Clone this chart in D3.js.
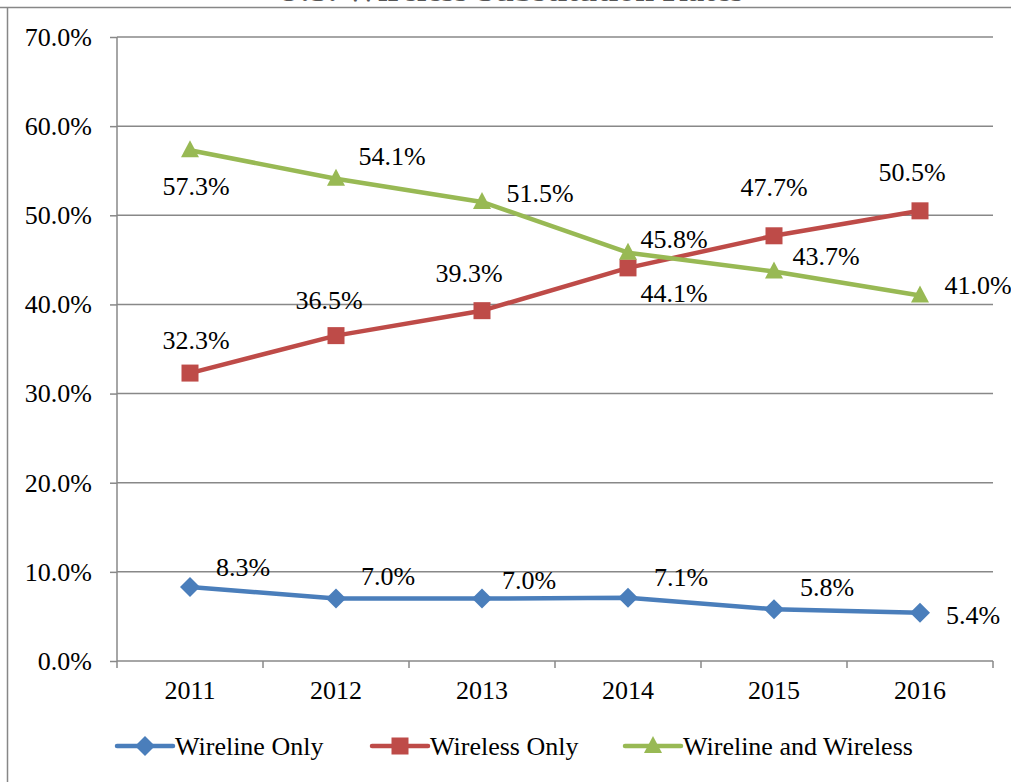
<!DOCTYPE html>
<html>
<head>
<meta charset="utf-8">
<script src="https://cdn.jsdelivr.net/npm/d3@7"></script>
<style>
  body { margin: 0; background: #fff; }
  svg text { font-family: "Liberation Serif", "Times New Roman", serif; fill: #000; }
</style>
</head>
<body>
<svg width="1011" height="782"></svg>
<script>
// Data
const years = ["2011", "2012", "2013", "2014", "2015", "2016"];
const wirelineOnly = [8.3, 7.0, 7.0, 7.1, 5.8, 5.4];
const wirelessOnly = [32.3, 36.5, 39.3, 44.1, 47.7, 50.5];
const wirelineAndWireless = [57.3, 54.1, 51.5, 45.8, 43.7, 41.0];
const yTicks = [0, 10, 20, 30, 40, 50, 60, 70];

// label placement relative to each point (dx, dy)
const blueLabelOffsets = [[53, -20], [52, -22], [47, -18], [53, -21], [53, -22], [53, 2]];
const redLabelOffsets = [[6, -33], [-7, -35], [-13, -38], [46, 25], [0, -49], [-8, -39]];
const greenLabelOffsets = [[6, 36], [56, -23], [58, -9], [46, -14], [52, -15], [58, -10]];

const svg = d3.select("svg");
const fontSize = "26px";

const x = d3.scaleBand()
    .domain(years)
    .range([117, 993]);

const y = d3.scaleLinear()
    .domain([0, 70])
    .range([661, 37]);

// outer frame (clipped at top of page)
svg.append("line").attr("x1", 0).attr("x2", 1011).attr("y1", 7.5).attr("y2", 7.5)
    .attr("stroke", "#878787").attr("stroke-width", 1.5);
svg.append("line").attr("x1", 7.5).attr("x2", 7.5).attr("y1", 7).attr("y2", 782)
    .attr("stroke", "#878787").attr("stroke-width", 1.5);

// title, mostly above the visible area
svg.append("text")
    .attr("x", 510).attr("y", 0.5)
    .attr("text-anchor", "middle")
    .style("font-size", "34px")
    .style("font-weight", "bold")
    .style("fill", "#555")
    .text("U.S. Wireless Substitution Rates");

// gridlines
svg.append("g")
    .selectAll("line")
    .data(yTicks.filter(d => d > 0))
    .join("line")
        .attr("x1", 117).attr("x2", 993)
        .attr("y1", d => y(d)).attr("y2", d => y(d))
        .attr("stroke", "#888").attr("stroke-width", 1.5);

// y axis
const yAxis = svg.append("g")
    .attr("transform", "translate(117,0)")
    .call(d3.axisLeft(y).tickValues(yTicks).tickFormat(d => d.toFixed(1) + "%").tickSize(7).tickPadding(18));
yAxis.select(".domain").attr("stroke", "#888").attr("stroke-width", 1.5).attr("d", "M0,37V661");
yAxis.selectAll(".tick line").attr("stroke", "#888").attr("stroke-width", 1.5);
yAxis.selectAll(".tick text").style("font-size", fontSize).attr("font-family", null);

// x axis
const xAxis = svg.append("g")
    .attr("transform", "translate(0,661)")
    .call(d3.axisBottom(x).tickSize(0).tickPadding(20));
xAxis.select(".domain").attr("stroke", "#888").attr("stroke-width", 1.5).attr("d", "M117,0H993");
xAxis.selectAll(".tick text").style("font-size", fontSize).attr("font-family", null);
svg.append("g")
    .selectAll("line")
    .data(years.concat(["end"]))
    .join("line")
        .attr("x1", (d, i) => 117 + i * x.bandwidth())
        .attr("x2", (d, i) => 117 + i * x.bandwidth())
        .attr("y1", 661).attr("y2", 668)
        .attr("stroke", "#888").attr("stroke-width", 1.5);

const cx = d => x(d) + x.bandwidth() / 2;

function marker(g, shape, color) {
    if (shape === "diamond") {
        g.append("path").attr("d", "M0,-10L10,0L0,10L-10,0Z").attr("fill", color);
    } else if (shape === "square") {
        g.append("rect").attr("x", -8.5).attr("y", -8.5).attr("width", 17).attr("height", 17).attr("fill", color);
    } else {
        g.append("path").attr("d", "M0,-10L9,7L-9,7Z").attr("fill", color);
    }
}

const series = [
    { name: "Wireline Only", values: wirelineOnly, color: "#4a7ebb", shape: "diamond", offsets: blueLabelOffsets },
    { name: "Wireless Only", values: wirelessOnly, color: "#be4b48", shape: "square", offsets: redLabelOffsets },
    { name: "Wireline and Wireless", values: wirelineAndWireless, color: "#98b954", shape: "triangle", offsets: greenLabelOffsets }
];

const line = d3.line()
    .x((d, i) => cx(years[i]))
    .y(d => y(d));

series.forEach(s => {
    svg.append("path")
        .datum(s.values)
        .attr("d", line)
        .attr("fill", "none")
        .attr("stroke", s.color)
        .attr("stroke-width", 4.5)
        .attr("stroke-linejoin", "round");

    s.values.forEach((v, i) => {
        const g = svg.append("g").attr("transform", `translate(${cx(years[i])},${y(v)})`);
        marker(g, s.shape, s.color);
    });
});

// data labels drawn last so they sit above lines
series.forEach(s => {
    svg.append("g")
        .selectAll("text")
        .data(s.values)
        .join("text")
            .attr("x", (d, i) => cx(years[i]) + s.offsets[i][0])
            .attr("y", (d, i) => y(d) + s.offsets[i][1])
            .attr("dy", "0.34em")
            .attr("text-anchor", "middle")
            .style("font-size", fontSize)
            .text(d => d.toFixed(1) + "%");
});

// legend
const legendX = [117, 372, 625];
series.forEach((s, i) => {
    const lg = svg.append("g").attr("transform", `translate(${legendX[i]},746)`);
    lg.append("line").attr("x1", 0).attr("x2", 56).attr("y1", 0).attr("y2", 0)
        .attr("stroke", s.color).attr("stroke-width", 4.5).attr("stroke-linecap", "round");
    const m = lg.append("g").attr("transform", "translate(28,0)");
    marker(m, s.shape, s.color);
    lg.append("text")
        .attr("x", 58).attr("y", 0)
        .attr("dy", "0.34em")
        .style("font-size", fontSize)
        .text(s.name);
});
</script>
</body>
</html>
